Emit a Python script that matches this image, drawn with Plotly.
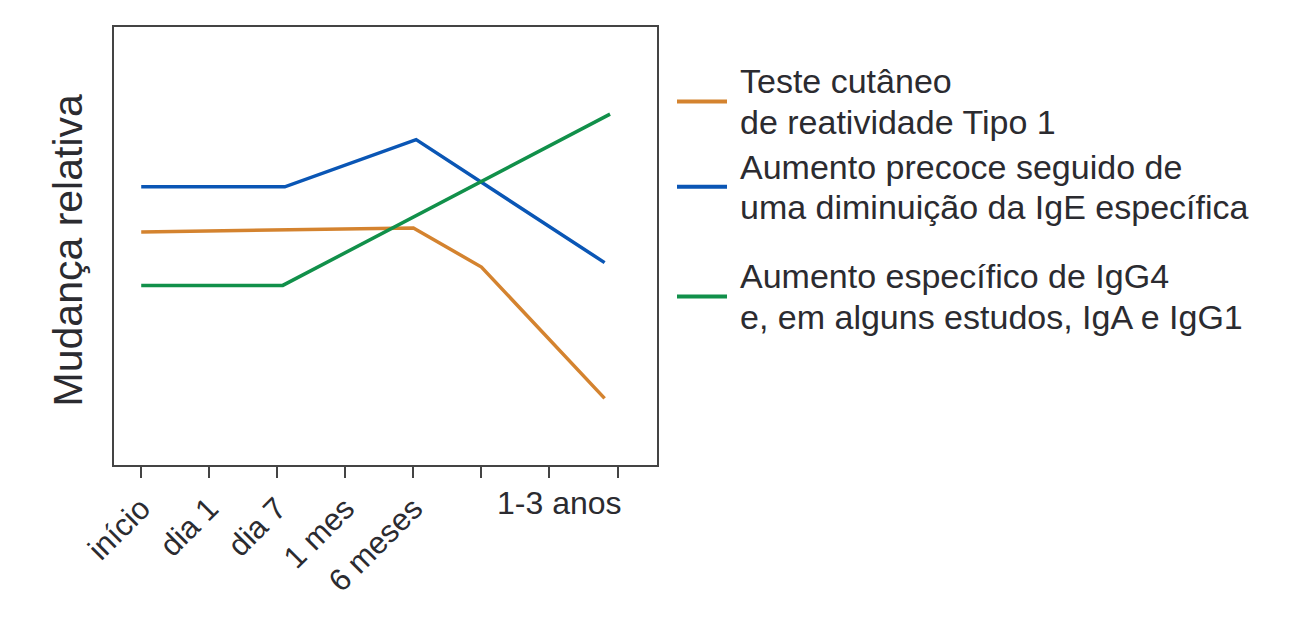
import plotly.graph_objects as go

### 데이터
# x축 눈금 (0..7), 5~7번 눈금은 라벨 없음
tick_vals = [0, 1, 2, 3, 4, 5, 6, 7]
tick_text = ['início', 'dia 1', 'dia 7', '1 mes', '6 meses', '', '', '']
extra_label = '1-3 anos'
extra_label_x = 6.15

# 시리즈별 값 (상대적 변화, 0~10)
x_teste = [0, 4, 5, 6.81]
y_teste = [5.32, 5.41, 4.52, 1.52]

x_ige = [0, 2.11, 4.04, 6.81]
y_ige = [6.35, 6.35, 7.43, 4.62]

x_igg4 = [0, 2.08, 6.89]
y_igg4 = [4.10, 4.10, 8.01]

names = ['Teste cutâneo<br>de reatividade Tipo 1',
         'Aumento precoce seguido de<br>uma diminuição da IgE específica',
         'Aumento específico de IgG4<br>e, em alguns estudos, IgA e IgG1']
colors = ['#D4832F', '#0A56B5', '#11904A']

### 레이아웃 (페이지 픽셀 기준, body 여백 8px 보정)
W, H = 1298, 618
OFF = 8
fw, fh = W - 2 * OFF, H - 2 * OFF
font = 'Liberation Sans, Arial, sans-serif'
txt = '#2b2b30'

# 세로 위치 보정 (렌더링 결과에 맞춰 조정)
def cy(p):
    return (p + 1.7) / 0.989

L, R = 114, 657
T, B = cy(25), cy(472)

def px_x(p):
    return (p - L) / (R - L)

def px_y(p):
    return (B - cy(p)) / (B - T)

fig = go.Figure()
for xs, ys, c in zip([x_teste, x_ige, x_igg4], [y_teste, y_ige, y_igg4], colors):
    fig.add_trace(go.Scatter(x=xs, y=ys, mode='lines',
                             line=dict(color=c, width=3.5),
                             showlegend=False, hoverinfo='skip'))

# 범례 (수동): 선 + 두 줄 텍스트
legend_y = [101, 188, 300]
line_gap = 41
shapes = []
annotations = []
for ly, c, n in zip(legend_y, colors, names):
    shapes.append(dict(type='line', xref='paper', yref='paper',
                       x0=px_x(677), x1=px_x(727), y0=px_y(ly), y1=px_y(ly),
                       line=dict(color=c, width=4)))
    parts = n.split('<br>')
    for i, part in enumerate(parts):
        py = ly + (i - (len(parts) - 1) / 2) * line_gap
        annotations.append(dict(text=part, xref='paper', yref='paper',
                                x=px_x(738), y=px_y(py), xanchor='left', yanchor='middle',
                                align='left', showarrow=False,
                                font=dict(family=font, size=34, color=txt)))

# y축 제목
annotations.append(dict(text='Mudança relativa', xref='paper', yref='paper',
                        x=px_x(68), y=px_y(253), xanchor='center', yanchor='middle',
                        textangle=-90, showarrow=False,
                        font=dict(family=font, size=41, color=txt)))
# 1-3 anos 라벨
annotations.append(dict(text=extra_label, xref='x', yref='paper',
                        x=extra_label_x, y=px_y(490), xanchor='center', yanchor='top',
                        showarrow=False,
                        font=dict(family=font, size=32, color=txt)))

fig.update_layout(width=fw, height=fh,
                  margin=dict(l=L - OFF, r=(W - OFF) - R, t=T - OFF, b=(H - OFF) - B),
                  plot_bgcolor='white', paper_bgcolor='white',
                  shapes=shapes, annotations=annotations,
                  xaxis=dict(range=[-0.4, 7.58], tickvals=tick_vals, ticktext=tick_text,
                             tickangle=-45, ticks='outside', ticklen=11, tickwidth=2,
                             tickcolor='#444', showline=True, linecolor='#444', linewidth=2,
                             mirror=True, showgrid=False, zeroline=False,
                             tickfont=dict(family=font, size=31, color=txt)),
                  yaxis=dict(range=[0, 10], showticklabels=False, ticks='',
                             showline=True, linecolor='#444', linewidth=2, mirror=True,
                             showgrid=False, zeroline=False))
fig.write_html('out.html')
